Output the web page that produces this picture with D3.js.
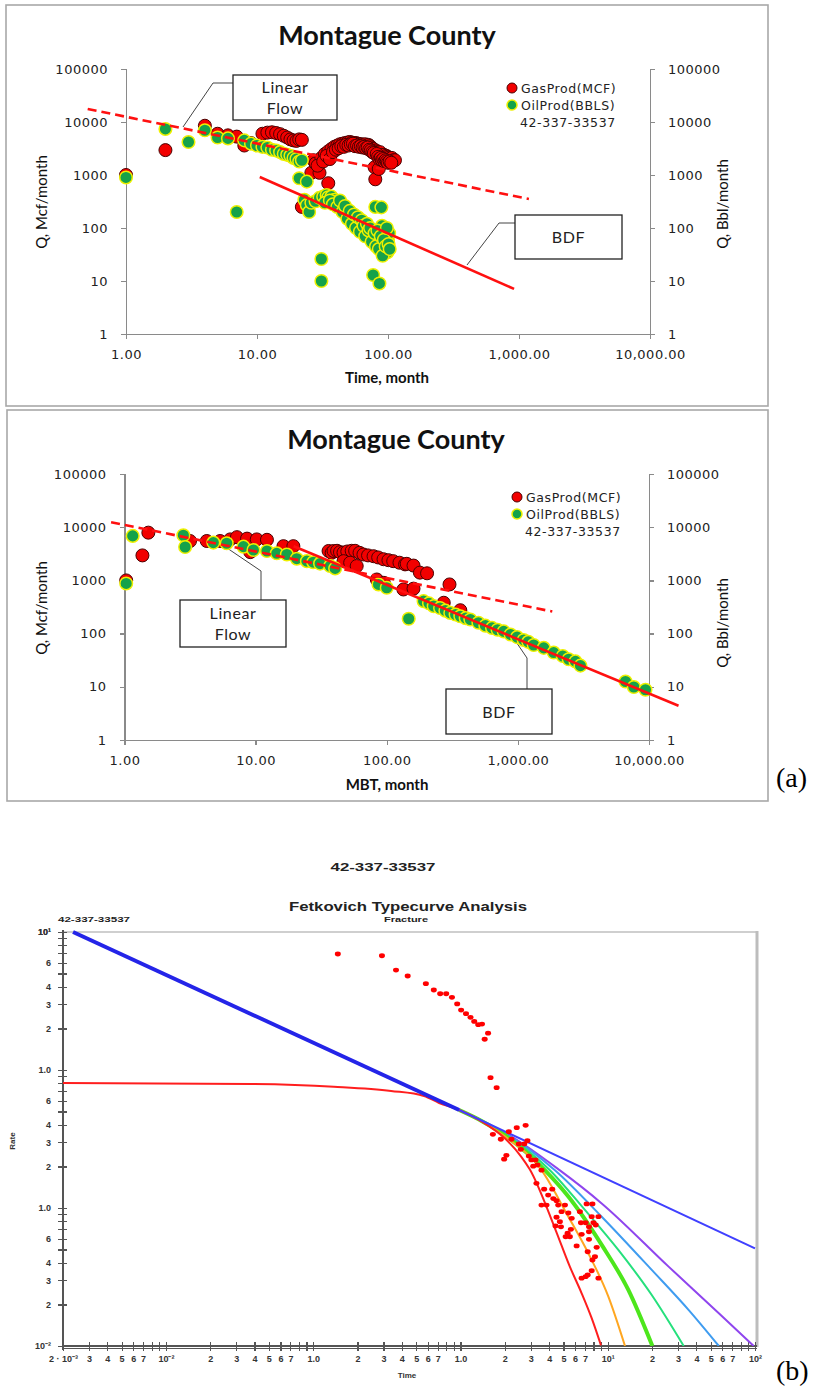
<!DOCTYPE html>
<html lang="en">
<head>
<meta charset="UTF-8">
<title>Montague County</title>
<script src="https://d3js.org/d3.v7.min.js"></script>
<style>
  body { margin: 0; background: #fff; }
  svg { display: block; }
  .axA path, .axA line { fill: none; stroke: #8a8a8a; stroke-width: 1.3; shape-rendering: crispEdges; }
  .axA text { font-family: "DejaVu Sans", sans-serif; font-size: 13px; fill: #222; letter-spacing: 0.5px; }
  .axB path, .axB line { fill: none; stroke: #555; stroke-width: 1.2; shape-rendering: crispEdges; }
  .axB text { font-family: "Liberation Sans", Arial, sans-serif; font-size: 9px; font-weight: bold; fill: #333; }
</style>
</head>
<body>
<svg width="813" height="1393"></svg>
<script>
// ---------- (a) top: rate vs time ----------
var gasMonth = [1,2,4,5,6,7,8,9,11,12,13,14,15,16,17,18,19,20,21,22,22,26,27,28,30,31,33,35,35,37,39,41,43,45,47,49,51,53,55,57,59,61,63,65,67,69,71,73,75,77,79,80,81,83,85,87,89,91,93,95,97,99,101,104,107,110,113,
                29,32,34,36,38,40,42,44,46,48,50,52,54,56,58,60,62,64,66,68,70,72,74,76,78,82,84,86,88,90,92,94,96,98,100,103,106];
var gasRate  = [1000,2950,8500,6000,5600,5300,3600,4000,6000,6300,6400,6200,5900,5500,5100,4700,4500,4400,4700,4600,250,1100,1900,1650,1100,2100,2500,700,2800,3100,3400,3600,3800,3900,4000,4100,4200,4100,4000,4000,3900,3800,3800,3700,3800,3600,3700,3500,3300,3100,1400,830,2900,2700,1300,2700,2400,2300,2400,2200,2300,2200,2100,2000,2100,1900,1900,
                1500,1800,2300,2000,2700,3000,3200,3500,3400,3700,3600,3800,3900,3500,3600,3400,3500,3300,3400,3200,3300,3000,2900,2700,2600,2500,2200,2000,2100,1900,2000,1800,1900,1800,1700,1800,1700];
var oilMonth = [1,2,3,4,5,6,7,8,9,10,11,12,13,14,15,16,17,18,19,20,21,22,21,24,23,24,25,26,28,30,31,31,32,34,35,37,39,40,42,44,46,48,50,52,54,56,58,60,62,64,66,68,70,72,74,76,77,78,80,82,84,86,87,89,90,92,94,95,97,99,100,102,
                33,36,38,41,43,45,47,49,51,53,55,57,59,61,63,65,67,69,71,73,75,79,81,83,85,88,91,93,96,98,101,103];
var oilRate  = [900,7400,4200,7000,5100,4900,200,4500,3900,3600,3400,3300,3000,2900,2700,2500,2400,2300,2100,2000,1800,1900,870,750,340,270,200,300,320,370,26,10,390,420,380,390,340,310,290,250,220,200,170,150,140,125,130,105,100,110,85,80,95,65,75,60,13,52,250,58,68,9,50,245,110,45,33,88,75,35,60,80,
                300,330,280,250,330,200,260,150,210,120,180,100,160,85,140,110,70,120,90,100,55,80,45,90,40,70,30,60,45,100,50,40];
var linFlowT1 = [0.51, 1190],  linFlowQ1 = [17600, 352];
var bdfT1 = [10.5, 917],       bdfQ1 = [916, 7.1];

// ---------- (a) bottom: rate vs material balance time ----------
var gasMbt  = [1.03,1.37,1.52,3.16,4.24,5.36,6.4,7.2,8.6,9.1,10.2,12.2,16.3,19.4,36,38,39.3,41.8,44,46.8,50,54,57.4,62,66.4,72,79.3,86,94.5,103,112,125,138,142,160,179,203,46.8,52.6,59,84,95,134,160,301,272,364];
var gasMbtQ = [1000,2950,7900,5500,5500,5500,5900,6500,6100,3400,5900,5800,4400,4400,3570,3300,3570,3600,3400,3330,3500,3600,3600,3300,3070,2950,2850,2700,2500,2400,2300,2150,2000,2050,1900,1400,1360,2300,2150,1860,1040,900,675,700,840,380,275];
var oilMbt  = [1.03,1.155,2.81,2.9,4.76,6.02,8.07,9.62,12.2,14.5,17.3,20.6,24.6,27.5,31,37,40.4,86.5,100,147,191,210,228,255,280,305,335,364,400,434,500,565,635,700,780,880,986,1107,1200,1320,1575,1876,2200,2440,2750,3000,6620,7660,9400];
var oilMbtQ = [877,6860,7060,4250,5140,4990,4310,3730,3570,3230,3070,2560,2300,2200,2070,1860,1680,840,728,190,407,370,328,303,270,245,228,212,195,184,160,141,128,118,110,96,86,76,70,61,54,44,38,33,30,25,12.6,9.9,8.8];
var linFlowT2 = [0.79, 1830],  linFlowQ2 = [12400, 260];
var bdfT2 = [19.5, 16800],     bdfQ2 = [4370, 4.4];

var rateTicks = [1, 10, 100, 1000, 10000, 100000];
var timeTicks = [1, 10, 100, 1000, 10000];

// ---------- (b) Fetkovich type curve ----------
var fetT = [0.147,0.293,0.365,0.438,0.582,0.659,0.728,0.80,0.875,0.95,1.01,1.09,1.17,1.24,1.32,1.40,1.54,1.46,1.60,1.76,
            1.66,1.88,2.13,2.41,2.77,2.22,2.49,2.71,2.85,2.57,2.05,1.98,2.91,3.03,3.23,3.12,3.33,3.55,
            3.28,3.70,4.20,3.94,4.27,4.49,3.55,3.84,4.61,5.12,7.19,7.87,4.86,5.40,6.47,4.49,4.73,5.69,7.78,8.65,6.58,7.08,8.0,4.42,4.81,5.62,7.46,8.28,5.34,6.65,7.46,5.18,5.53,7.46,6.15,7.31,8.41,8.19,7.87,7.78,7.31,6.65,8.65,7.08];
var fetQ = [6.93,6.73,5.30,4.80,4.22,3.80,3.57,3.57,3.36,3.01,2.72,2.56,2.41,2.25,2.13,2.15,1.85,1.67,0.88,0.745,
            0.342,0.315,0.357,0.382,0.397,0.315,0.291,0.291,0.307,0.266,0.241,0.226,0.238,0.223,0.223,0.201,0.205,0.188,
            0.151,0.137,0.137,0.124,0.117,0.113,0.105,0.105,0.105,0.105,0.107,0.107,0.094,0.092,0.094,0.0857,0.0796,0.0842,0.0865,0.0865,0.0782,0.0782,0.0782,0.0741,0.0731,0.0701,0.0731,0.0753,0.0656,0.0644,0.0673,0.0619,0.0619,0.0593,0.0531,0.0482,0.0519,0.0444,0.042,0.0351,0.0327,0.031,0.031,0.0318];

var curves = [
  { name: 'purple', color: '#8f45ee', w: 2, t: [0.98,1.4,2.0,4.71,9.1,25.9,56.8,98],  q: [0.513,0.428,0.352,0.188,0.108,0.0376,0.0173,0.01] },
  { name: 'b07',    color: '#3f9cf0', w: 2, t: [0.98,1.4,2.0,4.38,9.1,19.9,35.5,56.8], q: [0.513,0.428,0.348,0.188,0.0865,0.0356,0.0182,0.01] },
  { name: 'b05',    color: '#25e07c', w: 2, t: [0.98,1.4,2.0,4.05,7.0,11.8,19.9,32.8], q: [0.513,0.427,0.342,0.188,0.0968,0.0497,0.0234,0.01] },
  { name: 'b04',    color: '#4de61c', w: 4, t: [0.98,1.4,2.0,3.74,5.4,9.1,13.8,20.1],  q: [0.513,0.426,0.337,0.188,0.121,0.054,0.0255,0.01] },
  { name: 'b02',    color: '#ffa620', w: 2, t: [0.98,1.4,2.0,3.55,5.4,7.38,10.1,13.1], q: [0.513,0.425,0.331,0.188,0.0865,0.047,0.0228,0.01] },
  { name: 'stem',   color: '#ff1e1e', w: 2, t: [0.002,0.0376,0.138,0.338,0.566,0.716,0.98,1.4,2.0,2.59,2.96,4.38,5.53,6.65,7.78,9.0],
                                          q: [0.805,0.792,0.757,0.705,0.648,0.577,0.513,0.423,0.32,0.235,0.19,0.0713,0.0376,0.0241,0.0159,0.0101] },
  { name: 'linear', color: '#2424e8', w: 4, t: [0.00234, 0.98], q: [10, 0.513] },
  { name: 'harm',   color: '#4040ff', w: 2, t: [0.98, 100],     q: [0.513, 0.051] }
];

var svg = d3.select('svg');
var zip = function (a, b) { return a.map(function (v, i) { return [v, b[i]]; }); };

function prodPanel(o) {
  var x = d3.scaleLog().domain([1, 10000]).range(o.xr);
  var y = d3.scaleLog().domain([1, 100000]).range(o.yr);
  var g = svg.append('g');

  g.append('rect').attr('x', o.frame[0]).attr('y', o.frame[1])
    .attr('width', o.frame[2]).attr('height', o.frame[3])
    .attr('fill', 'none').attr('stroke', '#a8a8a8').attr('stroke-width', 1.6);

  g.append('text').attr('x', o.title[0]).attr('y', o.title[1]).attr('text-anchor', 'middle')
    .style('font-family', 'Lato, sans-serif').style('font-weight', 'bold').style('font-size', '27px').style('fill', '#111')
    .text('Montague County');

  g.append('g').attr('class', 'axA').attr('transform', 'translate(' + o.xr[0] + ',0)')
    .call(d3.axisLeft(y).tickValues(rateTicks).tickFormat(d3.format('d')).tickSizeOuter(0).tickSize(5).tickPadding(13));
  g.append('g').attr('class', 'axA').attr('transform', 'translate(' + o.xr[1] + ',0)')
    .call(d3.axisRight(y).tickValues(rateTicks).tickFormat(d3.format('d')).tickSizeOuter(0).tickSize(5).tickPadding(13));
  g.append('g').attr('class', 'axA').attr('transform', 'translate(0,' + o.yr[0] + ')')
    .call(d3.axisBottom(x).tickValues(timeTicks).tickFormat(d3.format(',.2f')).tickSizeOuter(0).tickSize(5).tickPadding(11));

  var lab = function (px, py, rot, txt, bold) {
    g.append('text').attr('transform', 'translate(' + px + ',' + py + ')' + (rot ? ' rotate(-90)' : ''))
      .attr('text-anchor', 'middle').attr('dy', '0.35em')
      .style('font-family', 'Lato, sans-serif').style('font-size', '15px')
      .style('font-weight', bold ? 'bold' : 'normal').style('fill', '#111').text(txt);
  };
  lab(42, o.ylab, true, 'Q, Mcf/month', false);
  lab(723, o.ylab2, true, 'Q, Bbl/month', false);
  lab(387, o.xlab, false, o.xtitle, true);

  // callout boxes
  o.boxes.forEach(function (b) {
    g.append('polyline').attr('points', b.lead.map(function (p) { return p.join(','); }).join(' '))
      .attr('fill', 'none').attr('stroke', '#444').attr('stroke-width', 1);
    g.append('rect').attr('x', b.r[0]).attr('y', b.r[1]).attr('width', b.r[2]).attr('height', b.r[3])
      .attr('fill', '#fff').attr('stroke', '#222').attr('stroke-width', 1.3);
    b.lines.forEach(function (s, i) {
      g.append('text').attr('x', b.r[0] + b.r[2] / 2).attr('y', b.ty[i]).attr('text-anchor', 'middle')
        .style('font-family', 'Lato, sans-serif').style('font-size', '16px').style('letter-spacing', '0.6px')
        .style('fill', '#222').text(s);
    });
  });

  // points
  g.append('g').selectAll('circle').data(zip(o.gasT, o.gasQ)).join('circle')
    .attr('cx', function (d) { return x(d[0]); }).attr('cy', function (d) { return y(d[1]); })
    .attr('r', 6.5).attr('fill', '#f20000').attr('stroke', '#4a0000').attr('stroke-width', 1);
  g.append('g').selectAll('circle').data(zip(o.oilT, o.oilQ)).join('circle')
    .attr('cx', function (d) { return x(d[0]); }).attr('cy', function (d) { return y(d[1]); })
    .attr('r', 6.3).attr('fill', '#15a24a').attr('stroke', '#eef000').attr('stroke-width', 1.5);

  var line = d3.line().x(function (d) { return x(d[0]); }).y(function (d) { return y(d[1]); });
  g.append('path').datum(zip(o.lfT, o.lfQ)).attr('d', line)
    .attr('stroke', '#ff1010').attr('stroke-width', 2.6).attr('stroke-dasharray', '9,5').attr('fill', 'none');
  g.append('path').datum(zip(o.bdT, o.bdQ)).attr('d', line)
    .attr('stroke', '#ff1010').attr('stroke-width', 2.6).attr('fill', 'none');

  // legend
  var L = o.legend;
  g.append('circle').attr('cx', L[0]).attr('cy', L[1]).attr('r', 5).attr('fill', '#f20000').attr('stroke', '#4a0000');
  g.append('circle').attr('cx', L[0]).attr('cy', L[1] + 17).attr('r', 5).attr('fill', '#15a24a').attr('stroke', '#eef000').attr('stroke-width', 1.5);
  ['GasProd(MCF)', 'OilProd(BBLS)', '42-337-33537'].forEach(function (s, i) {
    g.append('text').attr('x', L[0] + 9 - (i === 2 ? 1 : 0)).attr('y', L[1] + 5 + i * 17)
      .style('font-family', '"DejaVu Sans", sans-serif').style('font-size', '12.5px').style('letter-spacing', '0.6px')
      .style('fill', '#222').text(s);
  });
}

prodPanel({
  xr: [126, 650], yr: [334, 69], frame: [6, 5, 762, 401], title: [387, 45],
  ylab: 202, ylab2: 204, xlab: 378, xtitle: 'Time, month', legend: [512, 88],
  gasT: gasMonth, gasQ: gasRate, oilT: oilMonth, oilQ: oilRate,
  lfT: linFlowT1, lfQ: linFlowQ1, bdT: bdfT1, bdQ: bdfQ1,
  boxes: [
    { r: [233, 75, 104, 45], lines: ['Linear', 'Flow'], ty: [93, 114], lead: [[233, 83], [213, 83], [183, 127]] },
    { r: [515, 215, 107, 44], lines: ['BDF'], ty: [243], lead: [[515, 223], [499, 223], [467, 265]] }
  ]
});

prodPanel({
  xr: [124.5, 649], yr: [740, 474], frame: [7, 410, 761, 391], title: [396, 449],
  ylab: 608, ylab2: 623, xlab: 785, xtitle: 'MBT, month', legend: [517, 497],
  gasT: gasMbt, gasQ: gasMbtQ, oilT: oilMbt, oilQ: oilMbtQ,
  lfT: linFlowT2, lfQ: linFlowQ2, bdT: bdfT2, bdQ: bdfQ2,
  boxes: [
    { r: [180, 600, 106, 47], lines: ['Linear', 'Flow'], ty: [619, 640], lead: [[261, 600], [261, 571], [227, 548]] },
    { r: [446, 689, 106, 45], lines: ['BDF'], ty: [718], lead: [[527, 689], [527, 658], [508, 630]] }
  ]
});

svg.append('text').attr('x', 776).attr('y', 787).style('font-family', '"Liberation Serif", serif')
  .style('font-size', '28px').text('(a)');

// ---------- (b) ----------
var fx = d3.scaleLog().domain([0.002, 100]).range([63, 755]);
var fy = d3.scaleLog().domain([0.01, 10]).range([1346, 932]);
var gb = svg.append('g');

var bText = function (x0, y0, txt, size, len) {
  gb.append('text').attr('x', x0).attr('y', y0).attr('text-anchor', 'middle')
    .attr('textLength', len).attr('lengthAdjust', 'spacingAndGlyphs')
    .style('font-family', '"Liberation Sans", Arial, sans-serif').style('font-weight', 'bold')
    .style('font-size', size + 'px').style('fill', '#222').text(txt);
};
bText(383, 871, '42-337-33537', 11, 105);
bText(408, 911, 'Fetkovich Typecurve Analysis', 13, 238);
bText(94, 922, '42-337-33537', 8, 72);
bText(406, 922, 'Fracture', 8, 44);

// frame
gb.append('line').attr('x1', 63).attr('x2', 757).attr('y1', 932).attr('y2', 932).attr('stroke', '#cfcfcf').attr('stroke-width', 2);
gb.append('line').attr('x1', 757).attr('x2', 757).attr('y1', 931).attr('y2', 1347).attr('stroke', '#bdbdbd').attr('stroke-width', 3);

var sup = { '-3': '⁻³', '-2': '⁻²', '-1': '⁻¹', '1': '¹', '2': '²' };
var xTickVals = [], yTickVals = [];
[-3, -2, -1, 0, 1].forEach(function (n) {
  for (var k = 1; k <= 9; k++) {
    var v = k * Math.pow(10, n);
    if (v >= 0.002 - 1e-9 && v <= 100) xTickVals.push(v);
    if (n >= -2 && v <= 10) yTickVals.push(v);
  }
});
xTickVals.push(100); yTickVals.push(10);

function mant(v) { return Math.round(v / Math.pow(10, Math.floor(Math.log10(v) + 1e-9))); }

var xFmt = function (v) {
  var k = mant(v), n = Math.floor(Math.log10(v) + 1e-9);
  if (k === 1) return (n === -1 || n === 0) ? '1.0' : '10' + sup[n];
  if (n === -3 && k === 2) return '2 · 10⁻³';
  return k <= 7 ? String(k) : '';
};
var yFmt = function (v) {
  var k = mant(v), n = Math.floor(Math.log10(v) + 1e-9);
  if (k === 1) return (n === -1 || n === 0) ? '1.0' : '10' + sup[n];
  return [2, 3, 4, 6].indexOf(k) >= 0 ? String(k) : '';
};

var axX = gb.append('g').attr('class', 'axB').attr('transform', 'translate(0,1346)')
  .call(d3.axisBottom(fx).tickValues(xTickVals).tickFormat(xFmt).tickSizeOuter(0).tickSize(4).tickPadding(6));
axX.selectAll('.tick line').attr('y1', -4).attr('y2', 5);
axX.select('.domain').attr('d', 'M63,0H757M63,2.5H757');

var axY = gb.append('g').attr('class', 'axB').attr('transform', 'translate(63,0)')
  .call(d3.axisLeft(fy).tickValues(yTickVals).tickFormat(yFmt).tickSizeOuter(0).tickSize(5).tickPadding(7));
axY.selectAll('.tick line').attr('x1', -5).attr('x2', 4);
axY.select('.domain').attr('d', 'M0,930V1350');

gb.append('text').attr('transform', 'translate(15,1141) rotate(-90)').attr('text-anchor', 'middle')
  .style('font-family', '"Liberation Sans", Arial, sans-serif').style('font-weight', 'bold')
  .style('font-size', '8px').style('fill', '#333').text('Rate');
gb.append('text').attr('x', 407).attr('y', 1378).attr('text-anchor', 'middle')
  .style('font-family', '"Liberation Sans", Arial, sans-serif').style('font-weight', 'bold')
  .style('font-size', '8px').style('fill', '#333').text('Time');

var cl = d3.line().x(function (d) { return fx(d[0]); }).y(function (d) { return fy(d[1]); }).curve(d3.curveMonotoneX);
gb.append('clipPath').attr('id', 'fclip').append('rect')
  .attr('x', 63).attr('y', 930).attr('width', 694).attr('height', 416);
gb.append('g').attr('clip-path', 'url(#fclip)').selectAll('path').data(curves).join('path')
  .attr('d', function (c) { return cl(zip(c.t, c.q)); })
  .attr('fill', 'none').attr('stroke', function (c) { return c.color; })
  .attr('stroke-width', function (c) { return c.w; });

gb.append('g').selectAll('ellipse').data(zip(fetT, fetQ)).join('ellipse')
  .attr('cx', function (d) { return fx(d[0]); }).attr('cy', function (d) { return fy(d[1]); })
  .attr('rx', 3).attr('ry', 2.4).attr('fill', '#ff0000');

svg.append('text').attr('x', 776).attr('y', 1380).style('font-family', '"Liberation Serif", serif')
  .style('font-size', '28px').text('(b)');
</script>
</body>
</html>
